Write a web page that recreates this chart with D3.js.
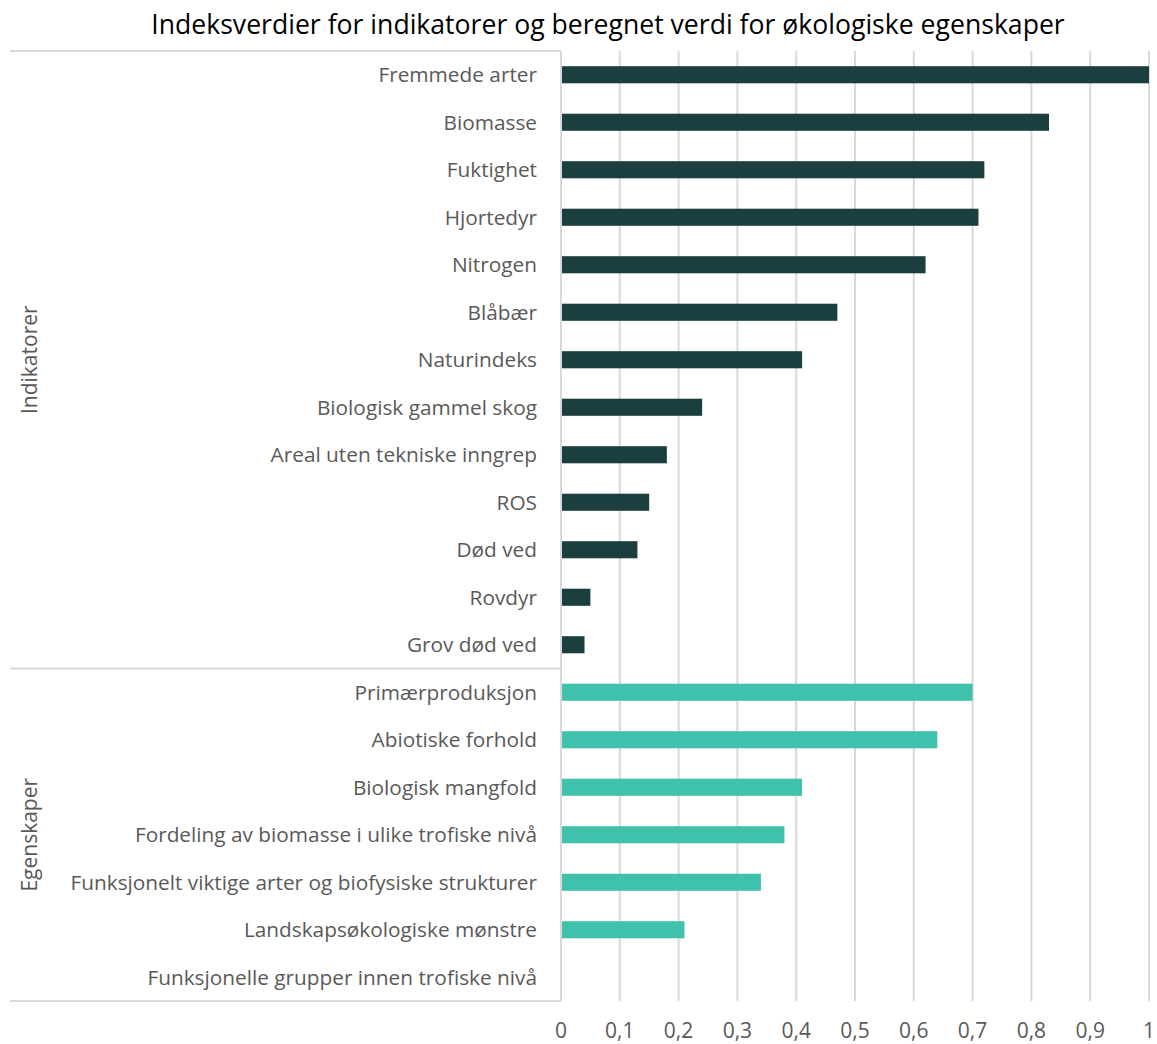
<!DOCTYPE html>
<html><head><meta charset="utf-8">
<script src="https://cdn.jsdelivr.net/npm/d3@7"></script>
<style>body{margin:0;background:#fff}svg{font-family:"Open Sans",sans-serif}</style>
</head><body><svg id="c" width="1157" height="1044"></svg>
<script>
const title = "Indeksverdier for indikatorer og beregnet verdi for økologiske egenskaper";
const indikatorer = ["Fremmede arter","Biomasse","Fuktighet","Hjortedyr","Nitrogen","Blåbær","Naturindeks","Biologisk gammel skog","Areal uten tekniske inngrep","ROS","Død ved","Rovdyr","Grov død ved"];
const indikatorVerdier = [1.0,0.83,0.72,0.71,0.62,0.47,0.41,0.24,0.18,0.15,0.13,0.05,0.04];
const egenskaper = ["Primærproduksjon","Abiotiske forhold","Biologisk mangfold","Fordeling av biomasse i ulike trofiske nivå","Funksjonelt viktige arter og biofysiske strukturer","Landskapsøkologiske mønstre","Funksjonelle grupper innen trofiske nivå"];
const egenskapVerdier = [0.70,0.64,0.41,0.38,0.34,0.21,0];
const groupNames = ["Indikatorer","Egenskaper"];
const xTicks = [0,0.1,0.2,0.3,0.4,0.5,0.6,0.7,0.8,0.9,1];
const colors = ["#1b3f3e","#40c1ab"];

(function(){
const rows = indikatorer.map((c,i)=>({cat:c,val:indikatorVerdier[i],g:0}))
  .concat(egenskaper.map((c,i)=>({cat:c,val:egenskapVerdier[i],g:1})));

const svg = d3.select("#c");
const L = 561, R = 1149, T = 51, B = 1001;
const x = d3.scaleLinear().domain([0,1]).range([L,R]);
const y = d3.scaleBand().domain(rows.map((d,i)=>i)).range([T,B]).paddingInner(0.64).paddingOuter(0.32);

svg.append("text").attr("x",608).attr("y",34).attr("text-anchor","middle")
  .attr("font-size",26.6).attr("fill","#000").text(title);

svg.append("g").selectAll("line").data(xTicks.slice(1)).join("line")
  .attr("x1",d=>x(d)).attr("x2",d=>x(d)).attr("y1",T).attr("y2",B)
  .attr("stroke","#d9d9d9").attr("stroke-width",2);

svg.append("g").selectAll("rect").data(rows).join("rect")
  .attr("x",x(0)).attr("y",(d,i)=>y(i)).attr("width",d=>x(d.val)-x(0)).attr("height",y.bandwidth())
  .attr("fill",d=>colors[d.g]);

const step = (B-T)/rows.length;
const sepYs = [T, T+step*indikatorer.length, B];
svg.append("g").selectAll("line").data(sepYs).join("line")
  .attr("x1",10).attr("x2",L).attr("y1",d=>d).attr("y2",d=>d)
  .attr("stroke","#d9d9d9").attr("stroke-width",2);
svg.append("line").attr("x1",L).attr("x2",L).attr("y1",T).attr("y2",B)
  .attr("stroke","#d9d9d9").attr("stroke-width",2);

svg.append("g").selectAll("text").data(rows).join("text")
  .attr("x",537).attr("y",(d,i)=>y(i)+y.bandwidth()/2).attr("dy","0.35em")
  .attr("text-anchor","end").attr("font-size",20.8).attr("fill","#595959").text(d=>d.cat);

const groupMid = [(sepYs[0]+sepYs[1])/2,(sepYs[1]+sepYs[2])/2];
svg.append("g").selectAll("text").data(groupNames).join("text")
  .attr("transform",(d,i)=>`translate(30,${groupMid[i]}) rotate(-90)`)
  .attr("dy","0.35em").attr("text-anchor","middle").attr("font-size",21).attr("fill","#595959").text(d=>d);

const fmt = d => String(d).replace(".",",");
svg.append("g").selectAll("text").data(xTicks).join("text")
  .attr("x",d=>x(d)).attr("y",1038).attr("text-anchor","middle").attr("font-size",21)
  .attr("fill","#595959").text(fmt);
})();
</script></body></html>
